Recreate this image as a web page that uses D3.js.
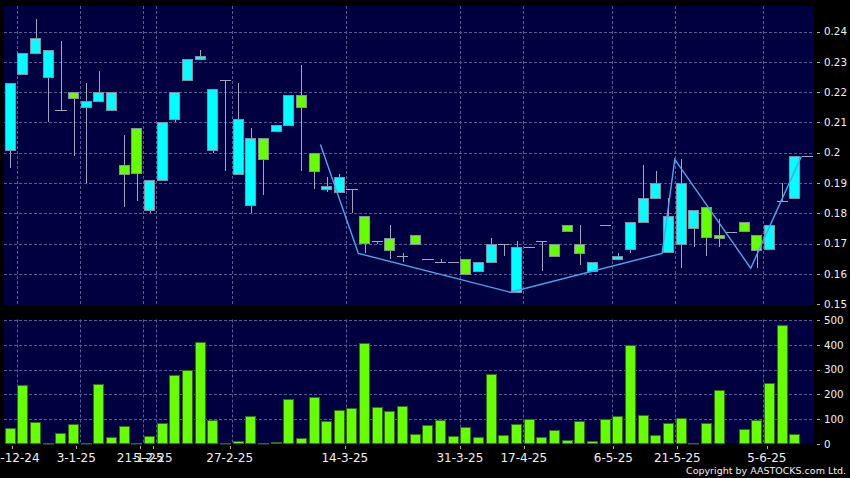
<!DOCTYPE html>
<html><head><meta charset="utf-8">
<script src="https://cdn.jsdelivr.net/npm/d3@7"></script>
<style>html,body{margin:0;padding:0;background:#000;}svg{display:block;}</style>
</head><body>
<script>
// ---- data ----
const slots = d3.range(64);
const open  = [0.201,0.226,0.233,0.225,0.214,0.220,0.215,0.217,0.214,0.196,0.208,0.181,0.191,0.211,0.224,0.231,0.201,0.224,0.193,0.183,0.205,0.207,0.209,0.219,0.200,0.188,0.187,0.188,0.179,0.171,0.172,0.166,0.173,0.165,0.164,0.164,0.165,0.161,0.164,0.170,0.154,0.169,0.171,0.170,0.176,0.170,0.161,0.176,0.165,0.168,0.177,0.185,0.167,0.170,0.175,0.182,0.173,0.174,0.177,0.173,0.168,0.184,0.185,0.199];
const high  = [0.223,0.233,0.244,0.234,0.237,0.220,0.223,0.227,0.220,0.206,0.208,0.191,0.210,0.220,0.231,0.234,0.221,0.224,0.223,0.208,0.205,0.209,0.219,0.229,0.200,0.192,0.193,0.188,0.179,0.171,0.176,0.167,0.173,0.165,0.165,0.164,0.165,0.164,0.172,0.170,0.171,0.169,0.171,0.170,0.176,0.176,0.164,0.176,0.167,0.177,0.196,0.194,0.185,0.198,0.181,0.182,0.178,0.174,0.177,0.173,0.176,0.190,0.199,0.199];
const low   = [0.195,0.226,0.233,0.210,0.214,0.199,0.190,0.217,0.214,0.182,0.184,0.180,0.191,0.210,0.224,0.231,0.200,0.194,0.193,0.180,0.186,0.207,0.209,0.194,0.188,0.187,0.187,0.180,0.167,0.170,0.165,0.164,0.170,0.165,0.164,0.164,0.160,0.161,0.164,0.166,0.154,0.169,0.161,0.166,0.174,0.163,0.161,0.176,0.165,0.167,0.177,0.185,0.167,0.162,0.169,0.166,0.169,0.174,0.174,0.162,0.168,0.184,0.185,0.199];
const close = [0.223,0.233,0.238,0.234,0.214,0.218,0.217,0.220,0.220,0.193,0.193,0.191,0.210,0.220,0.231,0.232,0.221,0.224,0.211,0.205,0.198,0.209,0.219,0.215,0.194,0.189,0.192,0.188,0.170,0.171,0.168,0.166,0.170,0.165,0.164,0.164,0.160,0.164,0.170,0.170,0.169,0.169,0.171,0.166,0.174,0.167,0.164,0.176,0.166,0.177,0.185,0.190,0.179,0.190,0.181,0.172,0.172,0.174,0.174,0.168,0.176,0.184,0.199,0.199];
const volume = [65,238,90,5,44,81,5,242,28,71,3,34,83,280,300,413,98,3,13,114,6,8,180,24,188,91,137,145,408,149,132,155,40,75,98,32,67,28,281,38,79,102,30,56,15,91,13,102,113,398,116,36,83,105,6,86,219,0,60,97,245,480,39,0];

// zigzag line: slot-boundary index and price
const zigzagIdx = [25, 28, 40, 52, 53, 59, 63];
const zigzagVal = [0.2027, 0.1668, 0.154, 0.1668, 0.1978, 0.1619, 0.1988];

// axis ticks
const xTickIdx = [1, 6, 11, 12, 18, 27, 36, 41, 48, 53, 60];
const xTickLabels = ["16-12-24","3-1-25","21-1-25","5-2-25","27-2-25","14-3-25","31-3-25","17-4-25","6-5-25","21-5-25","5-6-25"];
const priceTicks = [0.24,0.23,0.22,0.21,0.2,0.19,0.18,0.17,0.16,0.15];
const priceTickLabels = ["0.24","0.23","0.22","0.21","0.2","0.19","0.18","0.17","0.16","0.15"];
const volTicks = [500,400,300,200,100,0];

// ---- layout ----
const W = 850, H = 478;
const L = 4, R = 814;
const pTop = 6, pBot = 305;
const vTop = 319.5, vBot = 443.5;
const NAVY = "#000040", GRID = "#5a5a98", CYAN = "#00ffff", LIME = "#66ff00";
const WICK = "#a4a4bc", BORDER = "#8290a4", TXT = "#f0f0f0";
const FONT = "DejaVu Sans";

const svg = d3.select("body").append("svg").attr("width", W).attr("height", H)
  .style("background", "#000");

const x = d3.scaleBand().domain(slots).range([L, R]).paddingInner(0.12).paddingOuter(0.06);
const xb = d3.scaleLinear().domain([0, 64]).range([L, R]);        // slot boundaries
const xt = d3.scaleLinear().domain([0, 64]).range([-0.5, 818]);   // date tick marks
const y = d3.scaleLinear().domain([0.15, 0.24]).range([304.3, 31.5]);
const yv = d3.scaleLinear().domain([0, 500]).range([444, 320]);

const px = v => Math.round(v) + 0.5;

// panels
svg.append("rect").attr("x", L).attr("y", pTop).attr("width", R - L).attr("height", pBot - pTop).attr("fill", NAVY);
svg.append("rect").attr("x", L).attr("y", vTop).attr("width", R - L).attr("height", vBot - vTop).attr("fill", NAVY);

// grid lines
const grid = svg.append("g").attr("stroke", GRID).attr("stroke-dasharray", "3,2").attr("stroke-width", 1);
grid.selectAll(".hp").data(priceTicks.slice(0, -1)).join("line")
  .attr("x1", L).attr("x2", R).attr("y1", d => px(y(d))).attr("y2", d => px(y(d)));
grid.selectAll(".hv").data(volTicks.slice(0, -1)).join("line")
  .attr("x1", L).attr("x2", R).attr("y1", d => px(yv(d))).attr("y2", d => px(yv(d)));
grid.selectAll(".vp").data(xTickIdx).join("line")
  .attr("x1", d => px(xb(d))).attr("x2", d => px(xb(d))).attr("y1", pTop).attr("y2", pBot);
grid.selectAll(".vv").data(xTickIdx).join("line")
  .attr("x1", d => px(xb(d))).attr("x2", d => px(xb(d))).attr("y1", vTop).attr("y2", vBot);

// candles
const candles = slots.map(i => ({i, o: open[i], h: high[i], l: low[i], c: close[i]}));
const cx = d => px(x(d.i) + x.bandwidth() / 2);
const cg = svg.append("g");
cg.selectAll(".wick").data(candles.filter(d => d.h > d.l)).join("line")
  .attr("x1", cx).attr("x2", cx)
  .attr("y1", d => Math.round(y(d.h))).attr("y2", d => Math.round(y(d.l)))
  .attr("stroke", WICK).attr("stroke-width", 1);
cg.selectAll(".body").data(candles.filter(d => d.o !== d.c)).join("rect")
  .attr("x", d => px(x(d.i)))
  .attr("y", d => px(y(Math.max(d.o, d.c))))
  .attr("width", Math.round(x.bandwidth()) - 1)
  .attr("height", d => Math.max(1, Math.round(y(Math.min(d.o, d.c)) - y(Math.max(d.o, d.c)))))
  .attr("fill", d => d.c > d.o ? CYAN : LIME)
  .attr("stroke", BORDER).attr("stroke-width", 1);
cg.selectAll(".doji").data(candles.filter(d => d.o === d.c)).join("line")
  .attr("x1", d => Math.round(x(d.i))).attr("x2", d => Math.round(x(d.i) + x.bandwidth()))
  .attr("y1", d => px(y(d.o))).attr("y2", d => px(y(d.o)))
  .attr("stroke", WICK).attr("stroke-width", 1);

// zigzag
const zz = zigzagIdx.map((k, j) => [xb(k), y(zigzagVal[j])]);
svg.append("path").attr("d", d3.line()(zz)).attr("fill", "none")
  .attr("stroke", "#4aa6ea").attr("stroke-width", 1.4);

// volume bars
svg.append("g").selectAll("rect").data(slots.filter(i => volume[i] > 0)).join("rect")
  .attr("x", i => px(x(i)))
  .attr("y", i => px(yv(volume[i])))
  .attr("width", Math.round(x.bandwidth()) - 1)
  .attr("height", i => Math.max(0.5, Math.round(yv(0) - yv(volume[i])) - 1))
  .attr("fill", LIME).attr("stroke", "#2f6f12").attr("stroke-width", 1);

// right axes
const ra = svg.append("g").attr("font-family", FONT).attr("font-size", 10.3).attr("fill", TXT);
ra.selectAll(".pt").data(priceTicks).join("text")
  .attr("x", 824).attr("y", d => y(d)).attr("dy", "0.36em").text((d, j) => priceTickLabels[j]);
ra.selectAll(".vt").data(volTicks).join("text")
  .attr("x", 824).attr("y", d => yv(d)).attr("dy", "0.36em").text(d => d);
const rt = svg.append("g").attr("stroke", "#b0b0b0").attr("stroke-width", 1);
rt.selectAll(".ptk").data(priceTicks).join("line")
  .attr("x1", 817).attr("x2", 820).attr("y1", d => px(y(d))).attr("y2", d => px(y(d)));
rt.selectAll(".vtk").data(volTicks).join("line")
  .attr("x1", 817).attr("x2", 820).attr("y1", d => px(yv(d))).attr("y2", d => px(yv(d)));

// x axis
const xa = svg.append("g");
xa.selectAll("line").data(xTickIdx).join("line")
  .attr("x1", d => px(xt(d))).attr("x2", d => px(xt(d))).attr("y1", 446).attr("y2", 449)
  .attr("stroke", "#b0b0b0");
xa.selectAll("text").data(xTickIdx).join("text")
  .attr("x", d => xt(d)).attr("y", 461.5).attr("text-anchor", "middle")
  .attr("font-family", FONT).attr("font-size", 12).attr("fill", TXT)
  .text((d, j) => xTickLabels[j]);

// copyright
svg.append("text").attr("x", 846).attr("y", 474).attr("text-anchor", "end")
  .attr("font-family", FONT).attr("font-size", 9.5).attr("fill", TXT)
  .text("Copyright by AASTOCKS.com Ltd.");
</script>
</body></html>
